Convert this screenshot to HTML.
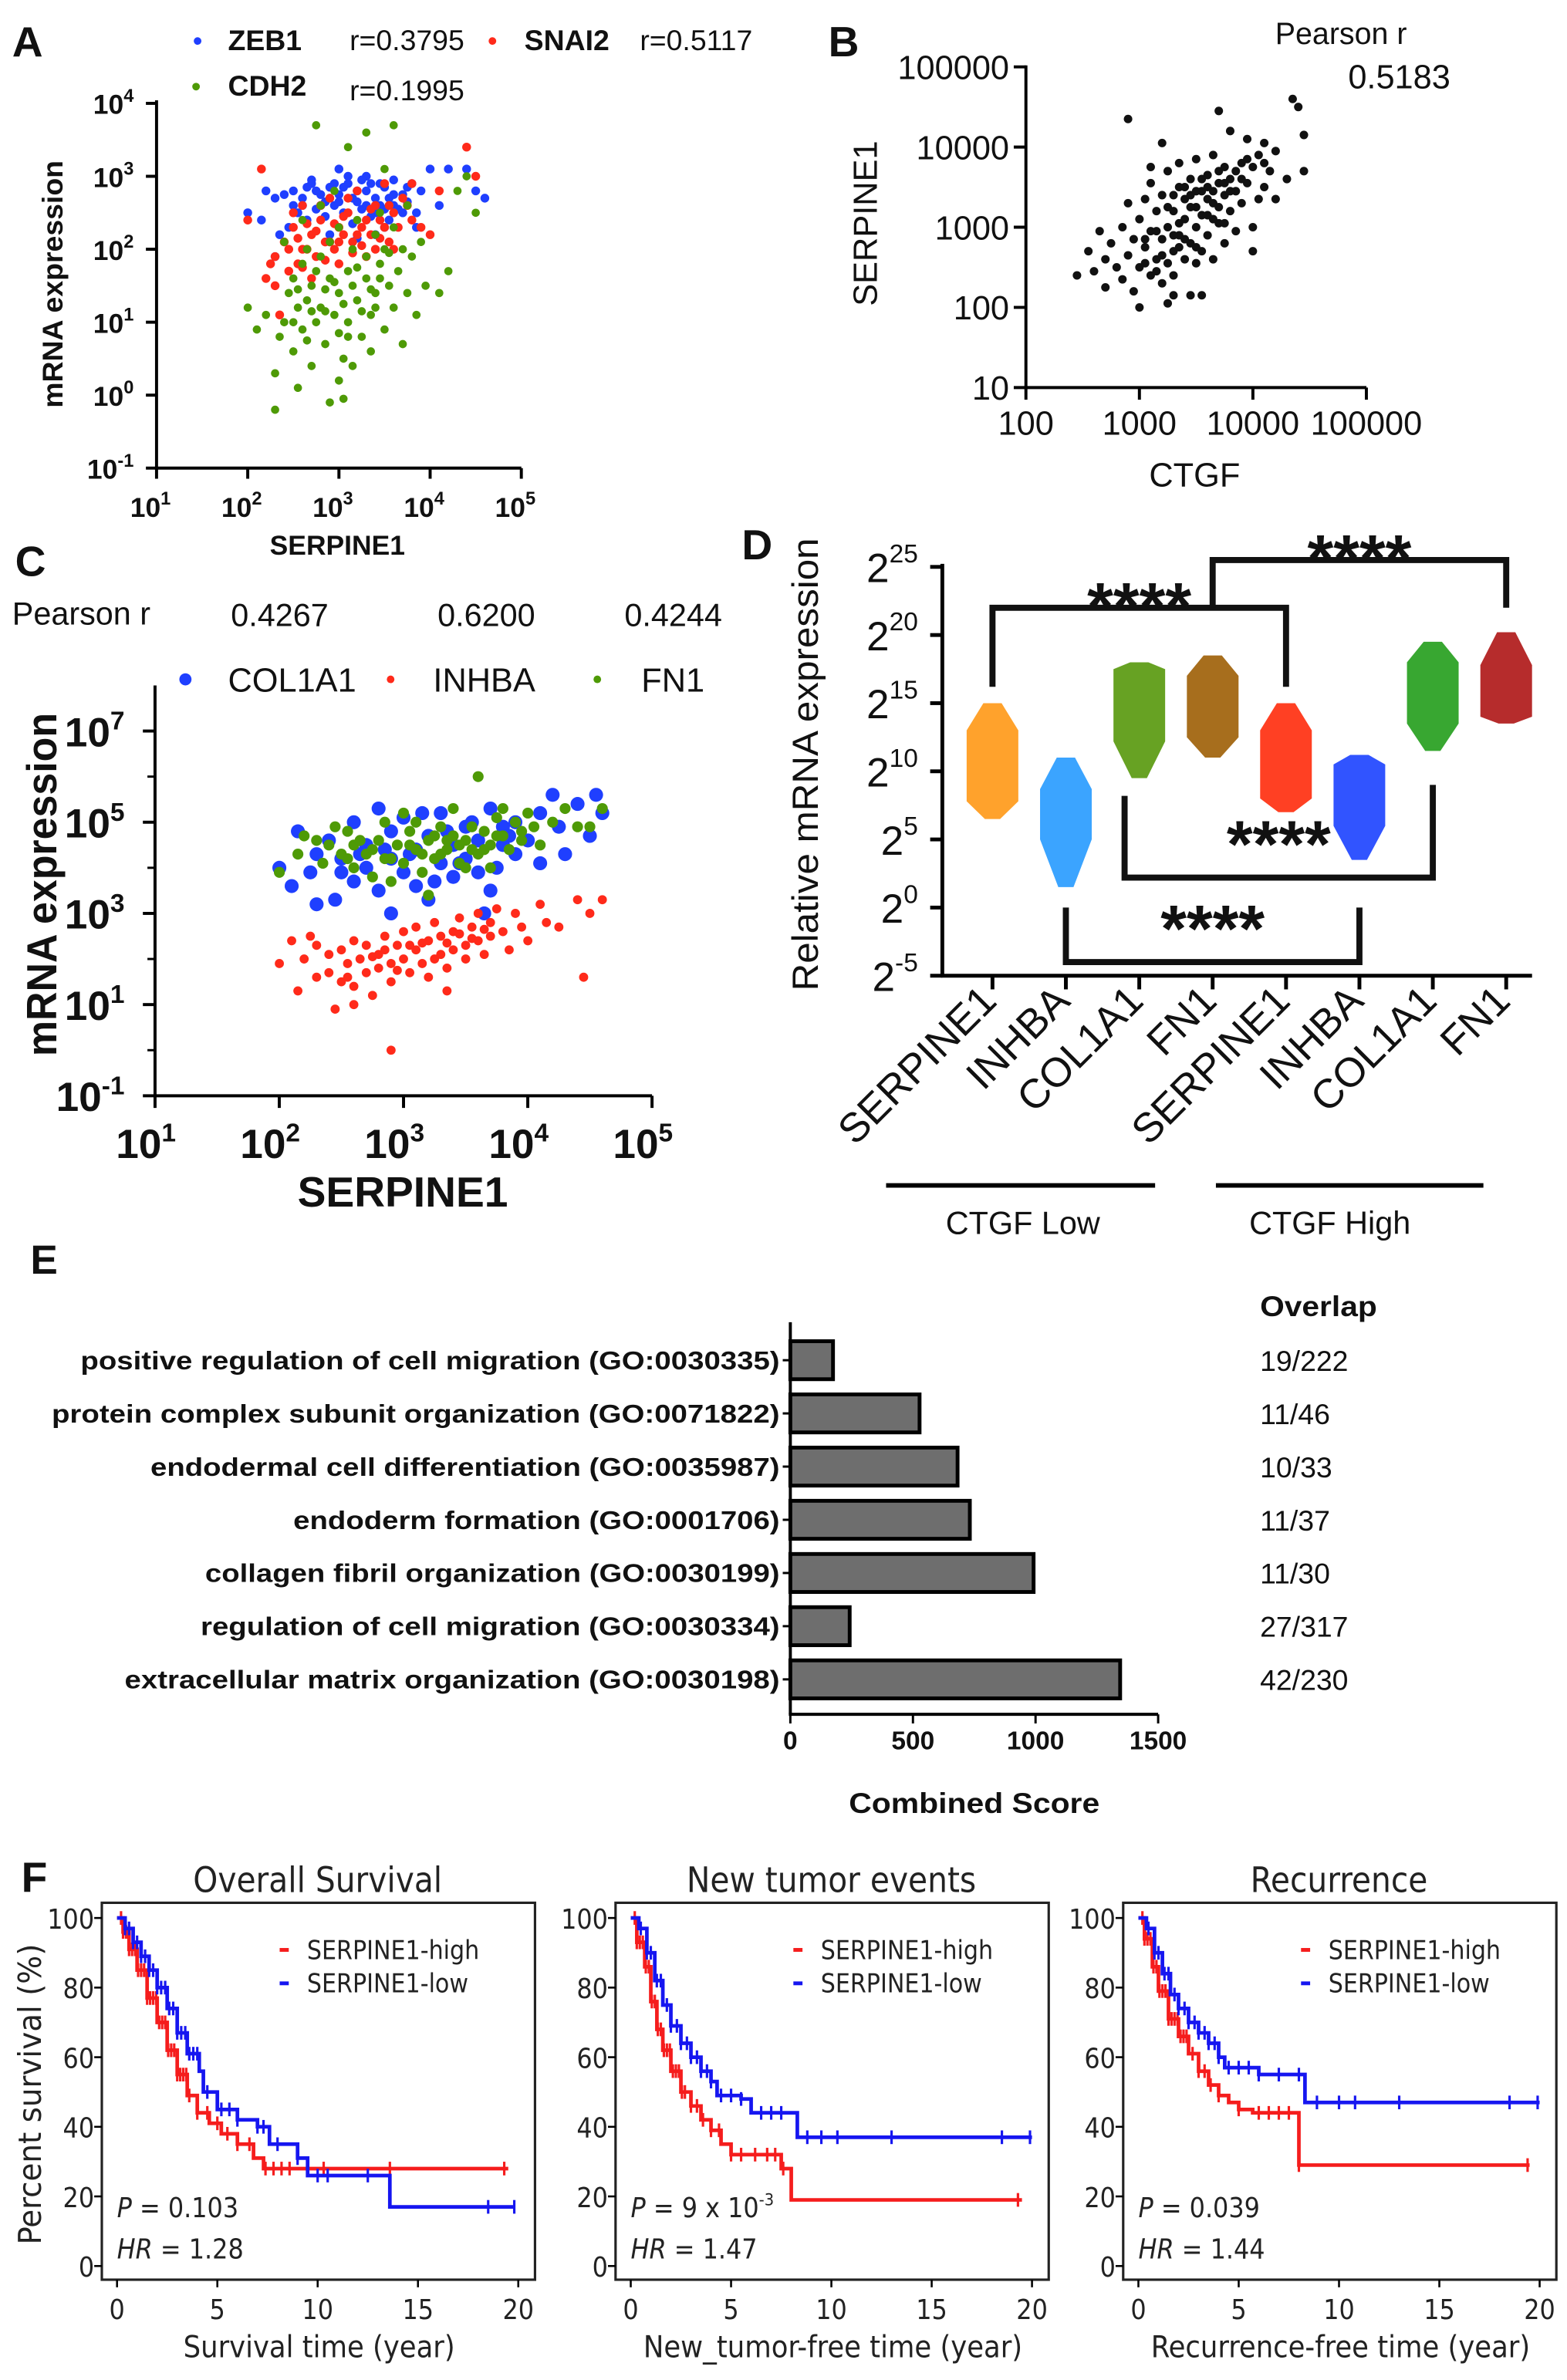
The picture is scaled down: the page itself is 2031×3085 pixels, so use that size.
<!DOCTYPE html>
<html><head><meta charset="utf-8"><style>
html,body{margin:0;padding:0;background:#fff;}
svg{display:block;}
text{font-family:"Liberation Sans",Arial,sans-serif;fill:#111;}
.dj{font-family:"DejaVu Sans Condensed","DejaVu Sans",sans-serif;fill:#222;}
</style></head><body>
<svg id="fig" xmlns="http://www.w3.org/2000/svg" width="2031" height="3085" viewBox="0 0 1031 1566" preserveAspectRatio="none">
<rect x="0" y="0" width="1031" height="1566" fill="#fff"/>

<!-- ===== Panel A ===== -->
<g>
<text x="8" y="37" font-size="28" font-weight="bold">A</text>
<g>
<circle cx="130" cy="27" r="2.5" fill="#1f3fff"/><text x="150" y="33" font-size="19" font-weight="bold">ZEB1</text><text x="230" y="33" font-size="19">r=0.3795</text>
<circle cx="324" cy="27" r="2.5" fill="#ff2a1a"/><text x="345" y="33" font-size="19" font-weight="bold">SNAI2</text><text x="421" y="33" font-size="19">r=0.5117</text>
<circle cx="129" cy="57" r="2.5" fill="#4e9a06"/><text x="150" y="63" font-size="19" font-weight="bold">CDH2</text><text x="230" y="66" font-size="19">r=0.1995</text>
</g>
<line x1="103" y1="66" x2="103" y2="309" stroke="#000" stroke-width="2"/>
<line x1="102" y1="308" x2="343" y2="308" stroke="#000" stroke-width="2"/>
<g id="aTicks"></g>
<text x="222" y="365" font-size="18" font-weight="bold" text-anchor="middle">SERPINE1</text>
<text transform="translate(41,187) rotate(-90)" font-size="19" font-weight="bold" text-anchor="middle">mRNA expression</text>
<g id="aMarks"></g>
</g>

<!-- ===== Panel B ===== -->
<g>
<text x="545" y="37" font-size="28" font-weight="bold">B</text>
<text x="839" y="29" font-size="20">Pearson r</text>
<text x="887" y="58" font-size="22">0.5183</text>
<line x1="675" y1="43" x2="675" y2="256" stroke="#000" stroke-width="2"/>
<line x1="674" y1="255" x2="899" y2="255" stroke="#000" stroke-width="2"/>
<g id="bTicks"></g>
<text x="786" y="320" font-size="22" text-anchor="middle">CTGF</text>
<text transform="translate(577,147) rotate(-90)" font-size="22" text-anchor="middle">SERPINE1</text>
<g id="bMarks"></g>
</g>

<!-- ===== Panel C ===== -->
<g>
<text x="10" y="379" font-size="28" font-weight="bold">C</text>
<text x="8" y="411" font-size="21">Pearson r</text>
<text x="184" y="412" font-size="21" text-anchor="middle">0.4267</text>
<text x="320" y="412" font-size="21" text-anchor="middle">0.6200</text>
<text x="443" y="412" font-size="21" text-anchor="middle">0.4244</text>
<g>
<circle cx="122" cy="447" r="4" fill="#1f3fff"/><text x="150" y="455" font-size="22">COL1A1</text>
<circle cx="257" cy="447" r="2.5" fill="#ff2a1a"/><text x="285" y="455" font-size="22">INHBA</text>
<circle cx="393" cy="447" r="2.5" fill="#4e9a06"/><text x="422" y="455" font-size="22">FN1</text>
</g>
<line x1="102" y1="451" x2="102" y2="722" stroke="#000" stroke-width="2"/>
<line x1="101" y1="721" x2="429" y2="721" stroke="#000" stroke-width="2"/>
<g id="cTicks"></g>
<text x="265" y="794" font-size="28" font-weight="bold" text-anchor="middle">SERPINE1</text>
<text transform="translate(37,582) rotate(-90)" font-size="28" font-weight="bold" text-anchor="middle" textLength="226" lengthAdjust="spacingAndGlyphs">mRNA expression</text>
<g id="cMarks"></g>
</g>

<!-- ===== Panel D ===== -->
<g>
<text x="488" y="368" font-size="28" font-weight="bold">D</text>
<line x1="620" y1="371" x2="620" y2="643" stroke="#000" stroke-width="2.5"/>
<line x1="619" y1="642" x2="1008" y2="642" stroke="#000" stroke-width="2.5"/>
<g id="dTicks"></g>
<text transform="translate(538,503) rotate(-90)" font-size="24" text-anchor="middle" textLength="298" lengthAdjust="spacingAndGlyphs">Relative mRNA expression</text>
<g id="dMarks"></g>
<g id="dBrackets"></g>
<line x1="583" y1="780" x2="760" y2="780" stroke="#000" stroke-width="3"/>
<line x1="800" y1="780" x2="976" y2="780" stroke="#000" stroke-width="3"/>
<text x="673" y="812" font-size="21" text-anchor="middle">CTGF Low</text>
<text x="875" y="812" font-size="21" text-anchor="middle">CTGF High</text>
</g>

<!-- ===== Panel E ===== -->
<g>
<text x="20" y="838" font-size="27" font-weight="bold">E</text>
<text x="829" y="866" font-size="19" font-weight="bold" textLength="77" lengthAdjust="spacingAndGlyphs">Overlap</text>
<g id="eMarks"></g>
<text x="641" y="1193" font-size="19" font-weight="bold" text-anchor="middle" textLength="165" lengthAdjust="spacingAndGlyphs">Combined Score</text>
</g>

<!-- ===== Panel F ===== -->
<g>
<text x="14" y="1245" font-size="28" font-weight="bold">F</text>
<text class="dj" transform="translate(27,1378) rotate(-90)" font-size="21" text-anchor="middle" textLength="198" lengthAdjust="spacingAndGlyphs">Percent survival (%)</text>
<g id="fMarks"></g>
</g>
</svg>

<script>
// ---------------- DATA ----------------
// Panel A (log10 SERPINE1, log10 mRNA)
const zeb1Pts=[[2.5,2.8],[2.6,2.7],[2.7,2.9],[2.8,2.6],[2.9,2.85],[3.0,2.75],[3.1,2.9],[3.2,2.65],[3.3,2.8],[3.4,2.7],[3.5,2.85],[3.6,2.6],[3.7,2.75],[3.8,2.9],[2.55,2.5],[2.65,2.4],[2.75,2.55],[2.85,2.45],[2.95,2.6],[3.05,2.5],[3.15,2.35],[3.25,2.55],[3.35,2.45],[3.45,2.6],[3.55,2.4],[3.65,2.55],[3.75,2.65],[3.85,2.5],[2.45,2.3],[3.9,2.8],[4.0,3.1],[4.1,2.6],[4.2,3.1],[4.4,3.1],[4.5,2.8],[2.0,2.5],[2.15,2.4],[2.2,2.8],[2.3,2.7],[2.35,2.2],[3.0,3.1],[3.3,3.0],[3.6,2.95],[2.9,2.2],[3.2,2.15],[3.5,2.3],[2.7,2.95],[3.1,3.0],[3.4,2.2],[3.7,2.5],[2.4,2.75],[2.6,2.6],[3.0,2.65],[3.2,2.8],[3.45,2.9],[2.8,2.75],[3.6,2.75],[3.3,2.6],[2.5,2.6],[3.85,2.3],[4.6,2.7],[2.3,1.9],[2.75,2.8],[2.95,2.9],[3.15,2.7],[3.35,2.9],[3.55,2.7],[3.75,2.85],[2.65,2.85],[3.05,2.85],[3.25,2.95],[3.5,2.55],[2.85,2.65],[3.4,2.5]];
const snai2Pts=[[2.3,1.9],[2.4,2.1],[2.5,2.3],[2.6,2.0],[2.7,2.2],[2.8,2.4],[2.9,2.1],[3.0,2.3],[3.1,2.5],[3.2,2.2],[3.3,2.4],[3.4,2.6],[3.5,2.3],[3.6,2.5],[3.7,2.7],[3.8,2.4],[2.45,1.7],[2.55,1.8],[2.65,2.0],[2.75,1.9],[2.85,2.1],[2.95,2.0],[3.05,2.2],[3.15,2.1],[3.25,2.3],[3.35,2.2],[3.45,2.4],[3.55,2.1],[3.65,2.3],[3.75,2.6],[2.2,1.6],[2.3,1.5],[2.6,2.6],[2.9,2.7],[3.2,2.8],[3.5,2.9],[3.8,2.9],[2.0,2.4],[2.15,3.1],[4.0,2.2],[4.1,2.8],[4.4,3.4],[4.5,3.0],[2.7,1.6],[3.0,1.8],[3.3,1.9],[3.6,2.0],[2.5,2.5],[2.8,2.6],[3.1,2.7],[3.4,2.0],[3.9,2.3],[2.35,1.1],[2.25,1.8],[2.55,2.15],[2.75,2.25],[3.05,2.45],[3.25,2.05],[2.95,2.35],[3.15,1.95],[2.65,2.35],[2.85,1.85],[3.35,2.55],[3.55,2.6],[2.45,2.0],[3.0,2.1],[3.45,2.15],[2.6,1.75]];
const cdh2Pts=[[2.0,1.2],[2.1,0.9],[2.2,1.1],[2.3,0.3],[2.35,0.8],[2.4,1.0],[2.45,1.4],[2.5,0.6],[2.5,1.6],[2.55,1.2],[2.6,0.9],[2.6,1.8],[2.65,1.3],[2.7,0.4],[2.7,1.5],[2.75,1.0],[2.8,1.9],[2.8,1.2],[2.85,0.7],[2.9,1.6],[2.9,2.1],[2.95,1.1],[3.0,1.4],[3.0,2.3],[3.05,0.5],[3.1,1.7],[3.1,1.0],[3.15,2.0],[3.2,1.3],[3.2,2.4],[3.25,0.8],[3.3,1.6],[3.3,1.9],[3.35,1.1],[3.4,2.2],[3.4,1.4],[3.45,1.8],[3.5,0.9],[3.5,2.0],[3.55,1.5],[3.6,2.3],[3.6,1.2],[3.65,1.7],[3.7,0.7],[3.7,2.0],[3.75,1.4],[3.8,1.9],[3.85,1.1],[3.9,2.1],[3.95,1.5],[4.1,1.4],[4.2,1.7],[4.3,2.8],[4.4,3.0],[4.5,2.5],[2.3,-0.2],[2.9,-0.1],[3.05,-0.05],[2.75,3.7],[3.6,3.7],[3.1,3.4],[3.3,3.6],[2.8,2.6],[3.5,3.1],[2.4,2.1],[2.6,2.4],[3.0,0.2],[3.15,0.4],[2.55,0.1],[3.35,0.6],[2.65,2.0],[3.45,2.5],[3.75,2.6],[2.95,2.8],[2.7,1.15],[2.85,1.45],[3.05,1.25],[3.2,1.75],[3.4,1.2],[2.5,1.0],[3.0,0.85],[3.55,1.95],[2.75,1.7],[2.95,1.55],[3.15,1.5],[3.25,1.15],[3.45,1.6],[2.65,0.75],[3.1,0.8],[2.85,1.15],[3.35,1.45],[2.55,1.45]];
const aXTicks=[1,2,3,4,5];
const aYTicks=[-1,0,1,2,3,4];

// Panel B (log10 CTGF, log10 SERPINE1)
const bPts=[[2.45,2.4],[2.55,2.7],[2.6,2.45],[2.65,2.95],[2.7,2.25],[2.7,2.6],[2.75,2.8],[2.8,2.5],[2.85,3.0],[2.85,2.35],[2.9,2.65],[2.9,3.3],[2.95,2.2],[2.95,2.85],[3.0,2.5],[3.0,3.1],[3.0,2.0],[3.05,2.75],[3.05,3.35],[3.1,2.4],[3.1,2.95],[3.1,3.55],[3.15,2.6],[3.15,3.2],[3.2,2.3],[3.2,2.85],[3.2,3.4],[3.2,4.05],[3.25,2.55],[3.25,3.0],[3.25,3.7],[3.3,2.7],[3.3,3.2],[3.3,2.4],[3.35,2.9],[3.35,3.5],[3.35,3.8],[3.4,2.6],[3.4,3.1],[3.4,3.35],[3.45,2.8],[3.45,3.6],[3.45,2.15],[3.5,3.0],[3.5,3.25],[3.5,3.85],[3.55,2.7],[3.55,3.45],[3.55,2.15],[3.6,3.15],[3.6,3.65],[3.6,2.9],[3.65,3.3],[3.65,3.9],[3.65,2.6],[3.7,3.05],[3.7,3.55],[3.7,4.45],[3.75,3.4],[3.75,2.8],[3.75,3.75],[3.8,3.2],[3.8,3.6],[3.8,4.2],[3.85,3.45],[3.85,2.95],[3.9,3.8],[3.9,3.3],[3.95,4.1],[3.95,3.55],[4.0,3.0],[4.0,3.75],[4.0,2.7],[4.05,3.9],[4.1,3.5],[4.1,4.05],[4.15,3.7],[4.2,3.35],[4.2,3.95],[4.3,3.6],[4.35,4.6],[4.4,4.5],[4.45,4.15],[4.45,3.7],[3.3,2.15],[2.9,4.35],[3.1,3.75],[3.25,2.05],[3.15,2.95],[3.35,3.05],[3.45,3.25],[3.55,3.15],[3.65,3.45],[3.4,2.85],[3.5,2.55],[3.6,3.35],[3.7,3.25],[3.8,3.45],[3.25,3.25],[3.45,3.4],[3.05,2.55],[3.3,2.9],[3.75,3.05],[3.9,3.6],[4.05,3.35],[3.2,2.65],[3.35,2.75],[3.5,2.75],[3.65,3.1],[3.75,3.55],[3.85,3.7],[3.55,3.6],[3.4,3.5],[3.6,3.5],[3.15,2.45],[3.05,2.85],[3.3,3.4],[3.95,3.85],[4.1,3.8],[3.5,3.45],[3.7,3.7]];
const bXTicks=[2,3,4,5];
const bYTicks=[1,2,3,4,5];
const bTickLabels=["10","100","1000","10000","100000"];

// Panel C (log10 SERPINE1, log10 mRNA)
const col1a1Pts=[[2.0,4.0],[2.15,4.8],[2.1,3.6],[2.3,3.2],[2.3,4.3],[2.4,4.6],[2.5,3.9],[2.5,4.2],[2.6,5.0],[2.6,3.7],[2.7,4.5],[2.7,4.0],[2.8,5.3],[2.8,3.5],[2.9,4.2],[2.9,4.8],[3.0,3.9],[3.0,5.1],[3.1,4.4],[3.1,3.6],[3.2,4.7],[3.2,3.3],[3.3,4.1],[3.3,5.2],[3.4,4.5],[3.4,3.8],[3.5,4.9],[3.5,4.2],[3.6,3.9],[3.6,4.6],[3.7,5.3],[3.7,3.5],[3.8,4.5],[3.8,4.9],[3.9,4.3],[3.9,5.0],[4.0,4.6],[4.1,5.2],[4.1,4.1],[4.2,5.6],[4.25,4.9],[4.3,4.3],[4.5,4.7],[4.55,5.6],[4.6,5.2],[4.4,5.4],[2.9,3.0],[2.45,3.3],[3.65,3.0],[3.35,4.8],[2.85,4.4],[3.55,5.0],[2.25,3.9],[3.15,5.2],[3.75,4.0],[3.05,4.3],[3.25,3.7],[3.45,4.1],[2.65,4.3],[3.85,4.7]];
const fn1Pts=[[2.0,3.9],[2.15,4.3],[2.2,4.7],[2.35,4.1],[2.4,4.5],[2.5,4.3],[2.55,4.8],[2.6,4.0],[2.65,4.6],[2.7,4.3],[2.75,3.8],[2.8,4.6],[2.85,5.0],[2.9,4.2],[2.95,4.5],[3.0,4.1],[3.05,4.8],[3.1,4.4],[3.15,3.9],[3.2,4.6],[3.25,4.2],[3.3,4.9],[3.35,4.4],[3.4,4.7],[3.45,4.1],[3.5,4.6],[3.55,4.9],[3.6,4.3],[3.65,4.8],[3.7,4.5],[3.75,5.1],[3.8,4.7],[3.85,4.4],[3.9,5.0],[3.95,4.6],[4.0,5.2],[4.05,4.9],[4.1,4.5],[4.2,5.0],[4.3,5.3],[4.4,4.9],[4.5,4.9],[4.6,5.3],[3.6,6.0],[3.2,3.4],[2.45,4.9],[3.0,5.2],[2.9,3.7],[3.4,5.3],[3.7,4.0],[2.3,4.6],[3.1,5.0],[3.5,4.0],[3.8,5.3],[2.6,4.5],[3.3,4.3],[2.75,4.4],[3.05,4.5],[3.25,4.7],[3.45,4.5],[3.65,4.4],[2.85,4.2],[3.15,4.3],[3.35,4.6],[3.55,4.4],[2.55,4.2],[3.75,4.7],[3.95,4.8]];
const inhbaPts=[[2.0,1.9],[2.1,2.4],[2.15,1.3],[2.2,2.0],[2.3,1.6],[2.3,2.3],[2.4,1.7],[2.4,2.1],[2.45,0.9],[2.5,1.5],[2.5,2.2],[2.55,1.9],[2.6,1.4],[2.6,2.4],[2.65,2.0],[2.7,1.7],[2.7,2.3],[2.75,1.2],[2.8,2.1],[2.8,1.8],[2.85,2.5],[2.9,1.9],[2.9,1.5],[2.95,2.3],[3.0,2.0],[3.0,2.6],[3.05,1.7],[3.1,2.2],[3.1,2.7],[3.15,1.9],[3.2,2.4],[3.2,1.6],[3.25,2.8],[3.3,2.1],[3.3,2.5],[3.35,1.8],[3.4,2.6],[3.4,2.2],[3.45,2.9],[3.5,2.3],[3.5,2.0],[3.55,2.7],[3.6,2.4],[3.6,3.0],[3.65,2.1],[3.7,2.8],[3.7,2.5],[3.75,3.1],[3.8,2.6],[3.85,2.2],[3.9,3.0],[3.95,2.7],[4.0,2.4],[4.1,3.2],[4.15,2.8],[4.25,2.7],[4.4,3.3],[4.45,1.6],[4.5,3.0],[4.6,3.3],[2.9,0.0],[2.6,1.0],[3.35,1.3],[2.25,2.5],[3.05,2.3],[2.75,2.05],[2.95,1.75],[3.15,2.35],[3.35,2.35],[3.55,2.45],[3.25,2.0],[2.85,2.2],[3.45,2.55],[3.65,2.65],[2.55,1.6]];
const cXTicks=[1,2,3,4,5];
const cYTicks=[-1,1,3,5,7];

// Panel D (log2 relative expression)
const dGroups=["SERPINE1","INHBA","COL1A1","FN1","SERPINE1","INHBA","COL1A1","FN1"];
const dColors=["#ff9a1a","#2a9cff","#5a9a10","#a0620a","#ff3010","#1f45ff","#27a020","#b01a1a"];
const dMin=[6.5,1.5,9.5,11.0,7.0,3.5,11.5,13.5];
const dLo =[7.8,5.0,12.2,12.5,8.0,6.0,13.5,14.0];
const dHi =[13.0,8.7,17.5,17.0,13.0,10.5,18.0,17.8];
const dMax=[15.0,11.0,18.0,18.5,15.0,11.2,19.5,20.2];
const dYTicks=[-5,0,5,10,15,20,25];
const dSig=[[0,4,22.0,16.2,16.2],[3,7,25.5,22.0,22.0]];
const dSigLow=[[1.8,6.0,2.2,8.2,9.0],[1,5,-4.0,0.0,0.0]];

// Panel E
const eTerms=["positive regulation of cell migration (GO:0030335)","protein complex subunit organization (GO:0071822)","endodermal cell differentiation (GO:0035987)","endoderm formation (GO:0001706)","collagen fibril organization (GO:0030199)","regulation of cell migration (GO:0030334)","extracellular matrix organization (GO:0030198)"];
const eScores=[174,527,682,732,992,242,1345];
const eOverlap=["19/222","11/46","10/33","11/37","11/30","27/317","42/230"];
const eXTicks=[0,500,1000,1500];

// Panel F (Kaplan-Meier)
const fTitles=["Overall Survival","New tumor events","Recurrence"];
const fXTitles=["Survival time (year)","New_tumor-free time (year)","Recurrence-free time (year)"];
const fP=["0.103","9 x 10","0.039"];
const fHR=["1.28","1.47","1.44"];
const osHighT=[0.3,0.6,1.0,1.5,2.0,2.5,3.0,3.5,4.0,4.6,5.2,6.0,6.8,7.3,19.5];
const osHighS=[96,91,85,77,70,62,55,49,44,41,38,35,31,28,28];
const osLowT=[0.4,0.8,1.2,1.6,2.0,2.5,3.0,3.5,4.1,4.3,5.0,6.0,7.0,7.6,9.0,9.5,13.6,19.8];
const osLowS=[97,93,89,85,80,74,67,61,56,50,45,42,40,35,31,26,17,17];
const nteHighT=[0.3,0.7,1.0,1.3,1.6,2.0,2.5,3.0,3.5,4.0,4.5,5.0,6.5,7.5,8.0,19.5];
const nteHighS=[93,86,76,68,62,56,50,46,42,39,35,32,32,28,19,19];
const nteLowT=[0.4,0.8,1.2,1.6,2.0,2.5,3.0,3.5,4.0,4.3,5.5,6.0,8.3,20.0];
const nteLowS=[97,90,82,75,69,64,60,56,53,49,48,44,37,37];
const recHighT=[0.3,0.7,1.0,1.5,2.0,2.5,3.0,3.5,4.0,4.5,5.0,5.7,8.0,19.5];
const recHighS=[94,86,79,71,66,61,56,52,49,47,45,44,29,29];
const recLowT=[0.4,0.8,1.2,1.6,2.0,2.5,3.0,3.5,4.0,4.3,5.0,6.0,8.3,20.0];
const recLowS=[97,90,84,78,74,70,67,64,60,57,57,55,47,47];
const osHighC=[0.2,0.3,0.45,0.6,0.75,0.9,1.05,1.2,1.35,1.5,1.65,1.8,1.95,2.1,2.25,2.4,2.55,2.7,2.85,3.0,3.15,3.3,3.45,3.6,4.0,4.5,5.0,5.5,6.0,6.6,7.4,7.8,8.2,8.6,10.3,13.6,19.3];
const osLowC=[0.4,0.6,0.8,1.0,1.2,1.4,1.6,1.8,2.0,2.2,2.4,2.6,2.8,3.0,3.2,3.4,3.6,3.8,4.0,4.5,5.2,5.6,6.0,7.0,7.3,8.0,9.0,10.0,10.5,12.5,18.5,19.8];
const nteHighC=[0.2,0.3,0.45,0.6,0.75,0.9,1.05,1.2,1.35,1.5,1.65,1.8,1.95,2.1,2.25,2.4,2.55,2.7,3.0,3.3,3.6,4.0,4.4,5.0,5.5,6.2,6.8,7.2,7.6,19.3];
const nteLowC=[0.5,0.8,1.0,1.3,1.5,1.8,2.0,2.3,2.5,2.8,3.0,3.3,3.5,3.8,4.0,4.5,5.0,5.5,6.5,7.0,7.5,8.8,9.5,10.3,13.0,18.5,19.9];
const recHighC=[0.2,0.3,0.45,0.6,0.75,0.9,1.05,1.2,1.35,1.5,1.65,1.8,1.95,2.1,2.25,2.4,2.7,3.0,3.3,3.6,4.0,5.0,6.0,6.5,7.0,7.5,8.0,19.4];
const recLowC=[0.5,0.8,1.0,1.3,1.5,1.8,2.0,2.3,2.5,2.8,3.0,3.3,3.5,3.8,4.0,4.5,5.0,5.5,6.0,7.0,8.0,8.9,10.0,10.8,13.0,18.5,19.9];
const fXTicks=[0,5,10,15,20];
const fYTicks=[0,20,40,60,80,100];

// ---------------- HELPERS ----------------
const NS="http://www.w3.org/2000/svg";
function el(tag,parent){const e=document.createElementNS(NS,tag);parent.appendChild(e);return e;}
function setA(e,o){for(const k in o)e.setAttribute(k,o[k]);return e;}
function lin(d0,d1,r0,r1){return v=>r0+(v-d0)*(r1-r0)/(d1-d0);}

function supLabel(parent,x,y,base,sup,fs,ss,dy,anchor,bold){
  const t=el('text',parent);
  setA(t,{x:x,y:y,'font-size':fs,'text-anchor':anchor});
  if(bold)t.setAttribute('font-weight','bold');
  
  
  t.appendChild(document.createTextNode(base));
  const s=el('tspan',t);setA(s,{'font-size':ss,dy:dy});s.textContent=sup;
  return t;
}
function tick(parent,x1,y1,x2,y2,w){
  const l=el('line',parent);
  setA(l,{x1:x1,y1:y1,x2:x2,y2:y2,stroke:'#000','stroke-width':w||2});
  
  
}
function dots(parent,pts,xs,ys,r,color,name){
  pts.forEach(p=>{
    const c=el('circle',parent);
    setA(c,{cx:xs(p[0]).toFixed(1),cy:ys(p[1]).toFixed(1),r:r,fill:color});
    
    
  });
}

// ---------------- PANEL A ----------------
(function(){
  const xs=lin(1,5,103,343), ys=lin(-1,4,308,68);
  const tg=document.getElementById('aTicks'), mg=document.getElementById('aMarks');
  aXTicks.forEach(v=>{tick(tg,xs(v),308,xs(v),315);supLabel(tg,xs(v)-4,340,"10",String(v),18,12,-8,'middle',true);});
  aYTicks.forEach(v=>{tick(tg,96,ys(v),103,ys(v));supLabel(tg,88,ys(v)+7,"10",String(v),18,12,-8,'end',true);});
  dots(mg,zeb1Pts,xs,ys,2.9,'#1f3fff','zeb1-point');
  dots(mg,snai2Pts,xs,ys,2.9,'#ff2a1a','snai2-point');
  dots(mg,cdh2Pts,xs,ys,2.7,'#4e9a06','cdh2-point');
})();

// ---------------- PANEL B ----------------
(function(){
  const xs=lin(2,5,675,899), ys=lin(1,5,255,44);
  const tg=document.getElementById('bTicks'), mg=document.getElementById('bMarks');
  bXTicks.forEach((v,i)=>{tick(tg,xs(v),255,xs(v),263);
    const t=el('text',tg);setA(t,{x:xs(v),y:286,'font-size':22,'text-anchor':'middle'});t.textContent=bTickLabels[i+1];
    
    });
  bYTicks.forEach((v,i)=>{tick(tg,667,ys(v),675,ys(v));
    const t=el('text',tg);setA(t,{x:664,y:ys(v)+8,'font-size':22,'text-anchor':'end'});t.textContent=bTickLabels[i];
    
    });
  dots(mg,bPts,xs,ys,2.8,'#111','ctgf-serpine1-point');
})();

// ---------------- PANEL C ----------------
(function(){
  const xs=lin(1,5,102,429), ys=lin(-1,7,721,481);
  const tg=document.getElementById('cTicks'), mg=document.getElementById('cMarks');
  cXTicks.forEach(v=>{tick(tg,xs(v),721,xs(v),729);supLabel(tg,xs(v)-6,762,"10",String(v),27,17,-11,'middle',true);});
  cYTicks.forEach(v=>{tick(tg,94,ys(v),102,ys(v));supLabel(tg,82,ys(v)+10,"10",String(v),27,17,-11,'end',true);});
  [0,2,4,6].forEach(v=>tick(tg,97,ys(v),102,ys(v),1.5));
  dots(mg,col1a1Pts,xs,ys,4.6,'#1f3fff','col1a1-point');
  dots(mg,fn1Pts,xs,ys,3.6,'#4e9a06','fn1-point');
  dots(mg,inhbaPts,xs,ys,3,'#ff2a1a','inhba-point');
})();

// ---------------- PANEL D ----------------
(function(){
  const xs=lin(0,7,653,991), ys=lin(-5,25,642,373);
  const tg=document.getElementById('dTicks'), mg=document.getElementById('dMarks'), bg=document.getElementById('dBrackets');
  dYTicks.forEach(v=>{tick(tg,612,ys(v),620,ys(v),2.5);supLabel(tg,604,ys(v)+10,"2",String(v),27,17,-13,'end',false);});
  dGroups.forEach((g,i)=>{
    tick(tg,xs(i),642,xs(i),651,2.5);
    const t=el('text',tg);
    setA(t,{transform:'translate('+(xs(i)+4)+',660) rotate(-45)','font-size':27,'text-anchor':'end'});
    t.textContent=g;
    
    
    const w=17,cx=xs(i);
    const p=el('polygon',mg);
    const pts=[[cx-5,ys(dMin[i])],[cx-w,ys(dLo[i])],[cx-w,ys(dHi[i])],[cx-6,ys(dMax[i])],[cx+6,ys(dMax[i])],[cx+w,ys(dHi[i])],[cx+w,ys(dLo[i])],[cx+5,ys(dMin[i])]];
    setA(p,{points:pts.map(q=>q[0].toFixed(1)+','+q[1].toFixed(1)).join(' '),fill:dColors[i],opacity:0.92});
    
    
  });
  function bracket(xa,xb,yBar,yA,yB,up){
    const p=el('path',bg);
    setA(p,{d:'M'+xs(xa)+','+ys(yA)+' V'+ys(yBar)+' H'+xs(xb)+' V'+ys(yB),fill:'none',stroke:'#111','stroke-width':4});
    
    
    const t=el('text',bg);
    const ty=up?ys(yBar)-4:ys(yBar)-7;
    setA(t,{x:(xs(xa)+xs(xb))/2,y:up?ty+18:ty,'font-size':44,'font-weight':'bold','text-anchor':'middle'});
    t.textContent='****';
    
    
  }
  dSig.forEach(s=>bracket(s[0],s[1],s[2],s[3],s[4],true));
  dSigLow.forEach(s=>bracket(s[0],s[1],s[2],s[3],s[4],false));
})();

// ---------------- PANEL E ----------------
(function(){
  const xs=lin(0,1500,520,762);
  const mg=document.getElementById('eMarks');
  const y0=895,step=35,h=25;
  eTerms.forEach((term,i)=>{
    const yc=y0+i*step;
    const r=el('rect',mg);
    setA(r,{x:xs(0),y:yc-h/2,width:xs(eScores[i])-xs(0),height:h,fill:'#6e6e6e',stroke:'#000','stroke-width':2.5});
    
    
    tick(mg,515,yc,520,yc,1.5);
    const t=el('text',mg);
    const tl=[460,479,414,320,378,381,431][i];
    setA(t,{x:513,y:yc+6,'font-size':17,'font-weight':'bold','text-anchor':'end',textLength:tl,lengthAdjust:'spacingAndGlyphs'});
    t.textContent=term;
    
    
    const o=el('text',mg);
    setA(o,{x:829,y:yc+7,'font-size':19});
    o.textContent=eOverlap[i];
    
    
  });
  const ax=el('line',mg);setA(ax,{x1:520,y1:870,x2:520,y2:1128,stroke:'#000','stroke-width':2});
  
  
  const bx=el('line',mg);setA(bx,{x1:519,y1:1128,x2:762,y2:1128,stroke:'#000','stroke-width':2});
  
  
  eXTicks.forEach(v=>{tick(mg,xs(v),1128,xs(v),1134,1.5);
    const t=el('text',mg);setA(t,{x:xs(v),y:1151,'font-size':17,'font-weight':'bold','text-anchor':'middle'});t.textContent=String(v);
    
    });
})();

// ---------------- PANEL F ----------------
(function(){
  const mg=document.getElementById('fMarks');
  const lefts=[67,405,739];
  const curves=[[osHighT,osHighS,osHighC,osLowT,osLowS,osLowC],[nteHighT,nteHighS,nteHighC,nteLowT,nteLowS,nteLowC],[recHighT,recHighS,recHighC,recLowT,recLowS,recLowC]];
  const RED='#f51d1d',BLUE='#1616f0';
  function surv(T,S,t){let s=100;for(let i=0;i<T.length;i++){if(T[i]<=t)s=S[i];else break;}return s;}
  lefts.forEach((L,k)=>{
    const g=el('g',mg);
    
    
    const xs=lin(0,20,L+10,L+274), ys=lin(0,100,1491,1262);
    const box=el('rect',g);setA(box,{x:L,y:1252,width:285,height:248,fill:'none',stroke:'#222','stroke-width':1.6});
    
    
    const ti=el('text',g);setA(ti,{class:'dj',x:L+142,y:1245,'font-size':23,'text-anchor':'middle'});ti.textContent=fTitles[k];
    
    
    const xt=el('text',g);setA(xt,{class:'dj',x:L+143,y:1551,'font-size':20,'text-anchor':'middle'});xt.textContent=fXTitles[k];
    
    
    fXTicks.forEach(v=>{tick(g,xs(v),1500,xs(v),1505,1.3);
      const t=el('text',g);setA(t,{class:'dj',x:xs(v),y:1526,'font-size':18,'text-anchor':'middle'});t.textContent=String(v);
      
      });
    fYTicks.forEach(v=>{tick(g,L-5,ys(v),L,ys(v),1.3);
      const t=el('text',g);setA(t,{class:'dj',x:L-5,y:ys(v)+7,'font-size':18,'text-anchor':'end'});t.textContent=String(v);
      
      });
    const c=curves[k];
    [[c[0],c[1],c[2],RED,'high'],[c[3],c[4],c[5],BLUE,'low']].forEach(cv=>{
      const T=cv[0],S=cv[1],C=cv[2];
      let d='M'+xs(0).toFixed(1)+','+ys(100).toFixed(1);
      for(let i=0;i<T.length;i++){d+=' H'+xs(T[i]).toFixed(1)+' V'+ys(S[i]).toFixed(1);}
      const p=el('path',g);setA(p,{d:d,fill:'none',stroke:cv[3],'stroke-width':2.4});
      
      
      C.forEach(t=>{const yy=ys(surv(T,S,t));
        const m=el('line',g);setA(m,{x1:xs(t),y1:yy-4.5,x2:xs(t),y2:yy+4.5,stroke:cv[3],'stroke-width':1.6});
        
        });
    });
    [['SERPINE1-high',RED,1283],['SERPINE1-low',BLUE,1305]].forEach(lg=>{
      const m=el('line',g);setA(m,{x1:L+117,y1:lg[2],x2:L+123,y2:lg[2],stroke:lg[1],'stroke-width':2.5});
      
      
      const t=el('text',g);setA(t,{class:'dj',x:L+135,y:lg[2]+6,'font-size':17});t.textContent=lg[0];
      
      
    });
    const pt=el('text',g);setA(pt,{class:'dj',x:L+10,y:1459,'font-size':18});
    
    
    const pi=el('tspan',pt);setA(pi,{'font-style':'italic'});pi.textContent='P';
    const pr=el('tspan',pt);pr.textContent=' = '+fP[k];
    if(k===1){const s=el('tspan',pt);setA(s,{'font-size':11,dy:-8});s.textContent='-3';}
    const hr=el('text',g);setA(hr,{class:'dj',x:L+10,y:1486,'font-size':18});
    
    
    const hi=el('tspan',hr);setA(hi,{'font-style':'italic'});hi.textContent='HR';
    const hv=el('tspan',hr);hv.textContent=' = '+fHR[k];
  });
})();
</script>
</body></html>
